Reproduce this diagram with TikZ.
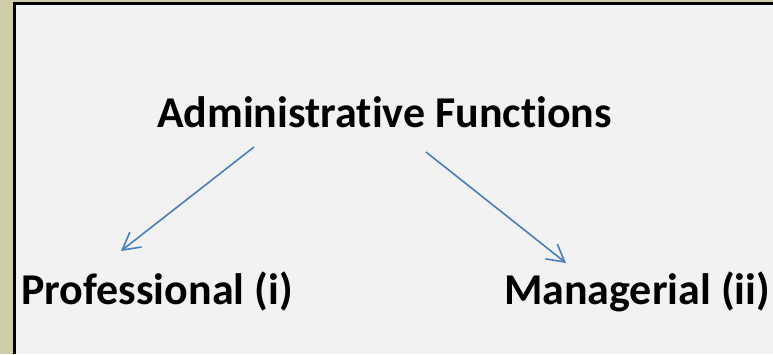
\documentclass[tikz,border=0pt]{standalone}
\usepackage{fontspec}
\setmainfont[Ligatures=NoCommon]{Carlito}
\usetikzlibrary{arrows.meta}
\definecolor{panelgray}{HTML}{F2F2F2}
\definecolor{khaki}{HTML}{CFCCA8}
\definecolor{arrowblue}{HTML}{4A7EBB}
\tikzset{>={Straight Barb[length=17pt,width=19pt]}}
\tikzset{title/.style={font=\fontsize{44}{52}\selectfont\bfseries,anchor=base,inner sep=0pt}}
\tikzset{link/.style={->,arrowblue,line width=1.6pt}}

\begin{document}
\begin{tikzpicture}[x=1pt,y=-1pt]
            \useasboundingbox (0,0) rectangle (773,354);
            \fill[khaki] (0,0) rectangle (773,354);
            \fill[black] (13,2) rectangle (773,354);
            \fill[panelgray] (16,5) rectangle (773,354);
            \node[title] (admin) at (384.5,127) {Administrative Functions};
            \node[title] (prof) at (157,304) {Professional (i)};
            \node[title] (manag) at (637,304) {Managerial (ii)};
            \coordinate (lstart) at (254,147);
            \coordinate (lend) at (121,251);
            \coordinate (rstart) at (426,152);
            \coordinate (rend) at (566,263);
            \draw[link] (lstart) -- (lend);
            \draw[link] (rstart) -- (rend);
        \end{tikzpicture}
\end{document}
